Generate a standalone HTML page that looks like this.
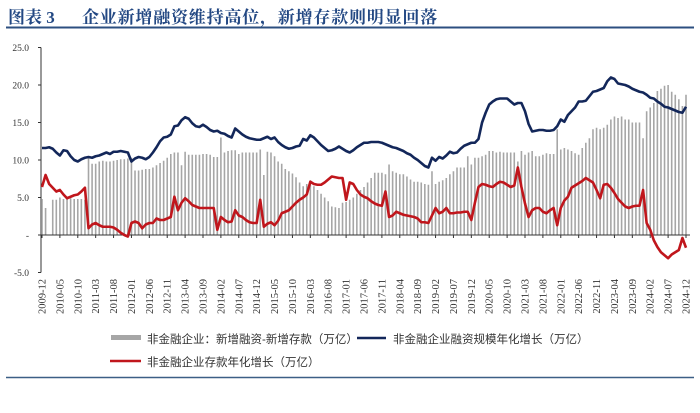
<!DOCTYPE html>
<html><head><meta charset="utf-8"><style>
html,body{margin:0;padding:0;background:#fff;}
body{width:700px;height:413px;overflow:hidden;position:relative;font-family:"Liberation Serif","Noto Serif CJK SC",serif;}
.title{position:absolute;left:8px;top:3px;font-family:"Liberation Serif","Noto Serif CJK SC",serif;font-weight:bold;font-size:17px;color:#234883;white-space:nowrap;}
.title .t2{position:absolute;left:74px;top:0;letter-spacing:0.8px;}
</style></head><body>
<div class="title"><span>图表 3</span><span class="t2">企业新增融资维持高位，新增存款则明显回落</span></div>
<svg id="chart" width="700" height="413" style="position:absolute;left:0;top:0"></svg>
<script>
const startYear = 2009, startMonth = 12;
const yTicks = [25, 20, 15, 10, 5, 0, -5];
const yTickLabels = ["25.0", "20.0", "15.0", "10.0", "5.0", "-", "-5.0"];
const barValues = [4.8,
3.6,0,4.7,4.7,5.0,4.8,4.9,4.9,4.8,4.8,4.8,4.7,
10.5,9.5,9.5,9.8,9.9,9.8,9.8,9.9,10.0,10.1,10.1,10.2,
10.3,8.6,8.6,8.7,8.8,8.8,9.0,9.3,9.6,9.9,10.3,10.8,
11.0,11.0,9.3,11.1,10.7,10.7,10.7,10.7,10.8,10.8,10.7,10.4,
10.4,13.0,11.0,11.2,11.3,11.3,10.8,11.0,11.0,11.0,11.0,11.0,
11.4,8.0,11.1,11.0,10.5,9.8,9.5,8.8,8.5,8.2,7.7,7.0,
6.5,6.8,7.3,6.5,6.0,5.5,5.0,4.5,3.8,3.7,3.6,4.3,
4.4,4.7,5.0,5.5,6.0,6.4,7.0,7.6,8.3,8.3,8.3,8.1,
9.4,8.5,8.3,8.1,8.1,7.8,7.4,7.1,7.1,7.0,6.8,6.7,
8.5,6.8,7.1,7.3,7.6,8.1,8.5,9.0,9.0,9.0,10.5,9.4,
10.3,10.3,10.5,10.7,11.2,11.2,11.0,11.1,11.0,11.0,11.0,11.0,
9.8,11.2,10.7,11.0,11.2,10.5,10.5,10.7,10.9,10.8,10.8,14.1,
11.4,11.6,11.4,11.2,10.9,10.7,11.6,12.3,12.9,14.1,14.3,14.1,
14.3,14.7,15.4,15.8,15.6,15.8,15.4,15.4,15.0,15.0,15.0,12.9,
16.5,17.0,17.6,19.2,19.5,19.9,20.0,19.1,18.7,18.1,17.2,18.7];
const financingValues = [11.6,
11.6,11.7,11.5,11.0,10.6,11.3,11.2,10.5,10.0,9.8,10.1,10.3,
10.4,10.3,10.5,10.6,10.8,11.0,10.8,11.1,11.1,11.2,11.1,11.0,
9.8,10.2,10.4,10.3,10.1,10.4,11.0,11.7,12.5,13.0,13.1,13.4,
14.5,14.6,15.3,15.7,15.5,14.9,14.5,14.4,14.7,14.4,14.0,13.8,
13.9,13.6,13.5,13.2,13.0,14.2,13.8,13.4,13.1,12.9,12.8,12.7,
12.7,12.9,13.1,12.8,13.0,12.4,12.0,11.7,11.5,11.6,11.8,11.9,
12.8,12.6,13.3,13.0,12.5,12.0,11.6,11.2,11.3,11.5,11.8,11.5,
11.2,11.0,11.3,11.7,12.0,12.3,12.3,12.4,12.4,12.4,12.3,12.1,
11.9,11.7,11.6,11.4,11.2,10.9,10.7,10.3,10.0,9.6,9.2,9.0,
10.3,9.9,10.4,10.2,10.6,11.1,10.9,11.0,11.5,11.9,12.1,12.3,
12.3,12.8,15.0,16.3,17.4,17.8,18.1,18.2,18.2,18.2,17.8,17.4,
17.6,17.6,16.5,14.8,13.8,13.9,14.0,14.0,13.9,13.9,14.0,14.5,
15.4,15.1,16.0,16.5,17.0,17.8,17.8,17.9,18.5,19.1,19.2,19.4,
19.6,20.5,21.0,20.8,20.2,20.1,20.0,19.8,19.5,19.3,19.1,19.0,
18.7,18.3,18.2,17.8,17.5,17.1,17.0,16.8,16.6,16.4,16.3,17.1];
const depositValues = [6.4,
8.0,6.8,6.3,5.8,6.0,5.4,4.9,5.1,5.3,5.4,5.8,6.3,
0.9,1.4,1.6,1.3,1.1,1.1,1.1,1.0,0.7,0.3,0.0,-0.2,
1.6,1.8,1.6,0.9,1.4,1.6,1.6,2.2,2.0,2.0,2.2,2.4,
5.1,3.3,4.3,4.9,4.5,4.0,3.8,3.6,3.6,3.6,3.6,3.6,
0.7,2.4,2.0,1.7,1.8,3.3,2.6,2.4,2.0,1.7,1.6,1.6,
4.7,1.1,1.5,1.7,1.3,1.9,2.9,3.1,3.3,3.8,4.3,4.7,
5.0,5.4,7.1,6.8,6.7,6.7,7.0,7.4,7.8,7.7,7.6,7.6,
4.7,7.0,6.8,6.0,5.4,5.1,4.9,4.5,4.2,4.0,3.9,5.8,
2.4,2.6,3.1,2.9,2.7,2.6,2.5,2.4,2.2,1.7,1.7,1.6,
2.6,3.6,2.9,3.1,3.6,2.9,2.9,3.0,3.0,3.1,3.1,2.0,
4.3,6.4,6.8,6.7,6.5,6.4,6.8,7.1,7.0,6.7,6.4,6.6,
9.0,6.4,4.2,2.4,3.3,3.6,3.6,3.1,2.9,3.3,3.6,1.3,
3.6,4.6,5.1,6.3,6.6,6.9,7.2,7.6,7.3,7.0,6.0,4.9,
6.7,6.8,6.3,5.6,4.8,4.3,3.8,3.6,3.8,3.9,3.9,6.0,
1.6,0.7,-0.7,-1.6,-2.3,-2.7,-3.1,-2.6,-2.3,-2.0,-0.4,-1.7];
const labelEvery = 5;

const NS = "http://www.w3.org/2000/svg";
const svg = document.getElementById("chart");
const X0 = 42, X1 = 686, Y25 = 47.5, Y0 = 235;
const n = barValues.length;
function xScale(i){ return X0 + (X1 - X0) * i / (n - 1); }
function yScale(v){ return Y0 - (Y0 - Y25) * v / 25; }
function monthLabel(i){ let m = startMonth - 1 + i; let y = startYear + Math.floor(m / 12); let mm = m % 12 + 1; return y + "-" + (mm < 10 ? "0" + mm : mm); }
function mk(tag, attrs){ const e = document.createElementNS(NS, tag); for (const k in attrs) e.setAttribute(k, attrs[k]); svg.appendChild(e); return e; }

let l = mk("line", {x1:6, y1:27.5, x2:694, y2:27.5, stroke:"#2c4f80", "stroke-width":2});


l = mk("line", {x1:6, y1:377.5, x2:694, y2:377.5, stroke:"#3c5f86", "stroke-width":1.5});



l = mk("line", {x1:41, y1:yScale(25), x2:41, y2:yScale(-5), stroke:"#333", "stroke-width":1});


yTicks.forEach((v, k) => {
  const t = mk("text", {x:29, y:yScale(v) + 3.5, "text-anchor":"end", "font-size":"9.5", fill:"#333"});
  t.textContent = yTickLabels[k];
  
  
  const tk = mk("line", {x1:38, y1:yScale(v), x2:41, y2:yScale(v), stroke:"#333", "stroke-width":1});
  
  
});

barValues.forEach((v, i) => {
  if (!v) return;
  const y = yScale(Math.max(v, 0)), h = Math.abs(yScale(v) - yScale(0));
  const r = mk("rect", {x:xScale(i) - 0.8, y:y, width:1.6, height:h, fill:"#a6a6a6"});
  
  
});

l = mk("line", {x1:41, y1:Y0, x2:690, y2:Y0, stroke:"#333", "stroke-width":1});


for (let i = 0; i < n; i += labelEvery) {
  const tk = mk("line", {x1:xScale(i), y1:Y0, x2:xScale(i), y2:Y0 + 3, stroke:"#333", "stroke-width":1});
  
  
  const t = mk("text", {x:0, y:0, "text-anchor":"end", "font-size":"10.5", fill:"#333", transform:"translate(" + (xScale(i) + 3.5) + ",279) rotate(-90)"});
  t.textContent = monthLabel(i);
  
  
}

function linePath(arr){ return arr.map((v, i) => (i ? "L" : "M") + xScale(i).toFixed(2) + "," + yScale(v).toFixed(2)).join(""); }
let p = mk("path", {d:linePath(financingValues), fill:"none", stroke:"#13275a", "stroke-width":2.6, "stroke-linejoin":"round"});


p = mk("path", {d:linePath(depositValues), fill:"none", stroke:"#c0161c", "stroke-width":2.6, "stroke-linejoin":"round"});



const lf = '"Liberation Sans","Noto Sans CJK SC",sans-serif';
let r = mk("rect", {x:111, y:335, width:30, height:5, fill:"#a6a6a6"});


let t = mk("text", {x:147, y:343, "font-size":"11.5", fill:"#333", "font-family":lf});
t.textContent = "非金融企业：新增融资-新增存款（万亿）";


l = mk("line", {x1:357, y1:338, x2:386, y2:338, stroke:"#13275a", "stroke-width":2.5});


t = mk("text", {x:393, y:343, "font-size":"11.5", fill:"#333", "font-family":lf});
t.textContent = "非金融企业融资规模年化增长（万亿）";


l = mk("line", {x1:110, y1:361, x2:141, y2:361, stroke:"#c0161c", "stroke-width":2.5});


t = mk("text", {x:147, y:366, "font-size":"11.5", fill:"#333", "font-family":lf});
t.textContent = "非金融企业存款年化增长（万亿）";


</script>
</body></html>
